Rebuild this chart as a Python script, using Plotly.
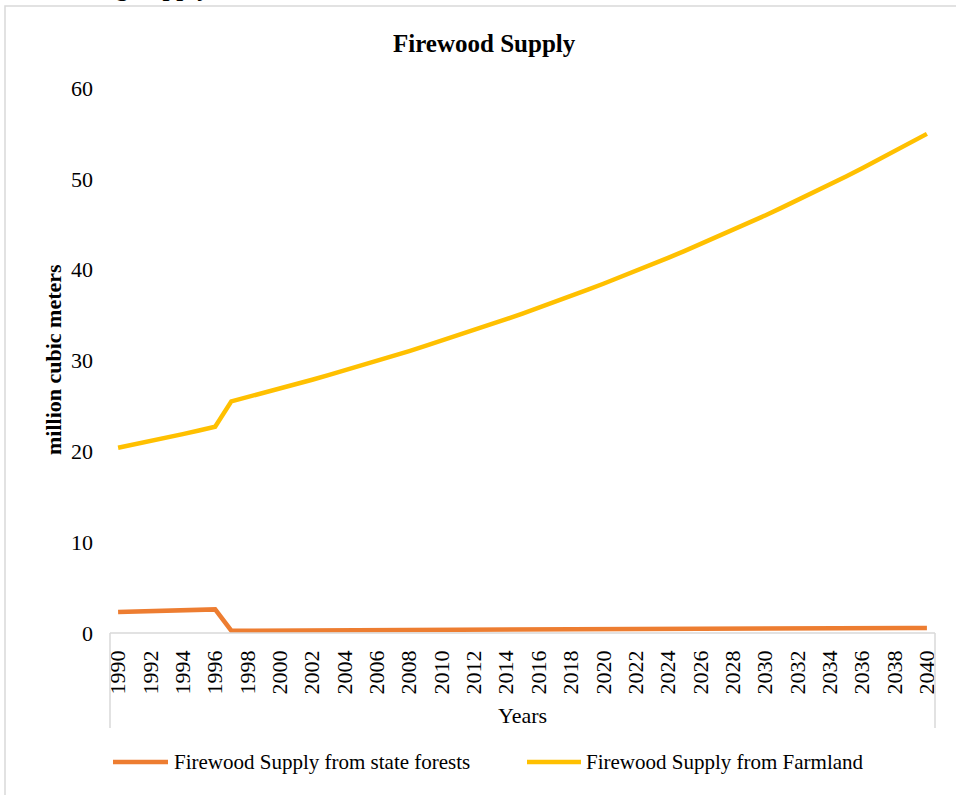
import plotly.graph_objects as go

years = list(range(1990, 2041))

state_forests = [2.30, 2.35, 2.40, 2.45, 2.50, 2.55, 2.60,
                 0.25, 0.26, 0.27, 0.27, 0.28, 0.29, 0.30, 0.30, 0.31,
                 0.32, 0.33, 0.33, 0.34, 0.35, 0.36, 0.36, 0.37, 0.38,
                 0.39, 0.39, 0.40, 0.41, 0.42, 0.42, 0.43, 0.44, 0.45,
                 0.45, 0.46, 0.47, 0.48, 0.48, 0.49, 0.50, 0.51, 0.51,
                 0.52, 0.53, 0.53, 0.54, 0.54, 0.55, 0.55, 0.55]

farmland = [20.40, 20.75, 21.10, 21.50, 21.90, 22.30, 22.70,
            25.50, 25.96, 26.43, 26.90, 27.39, 27.88, 28.39, 28.90, 29.42,
            29.95, 30.49, 31.04, 31.60, 32.17, 32.75, 33.34, 33.94, 34.55,
            35.17, 35.80, 36.45, 37.10, 37.77, 38.45, 39.14, 39.85, 40.57,
            41.30, 42.04, 42.80, 43.57, 44.36, 45.16, 45.97, 46.80, 47.64,
            48.50, 49.37, 50.26, 51.17, 52.09, 53.03, 53.98, 54.95]

series_names = ["Firewood Supply from state forests", "Firewood Supply from Farmland"]
series_colors = ["#ED7D31", "#FFC000"]
tick_years = list(range(1990, 2041, 2))
y_ticks = [0, 10, 20, 30, 40, 50, 60]

FONT = "Liberation Serif, Times New Roman, serif"

# plot area in pixels
L, R, T, B = 110, 935, 88, 633
W, H = 956, 795
PW, PH = R - L, B - T

def px(x):
    return (x - L) / PW

def py(y):
    return (B - y) / PH

fig = go.Figure()
for name, vals, col in zip(series_names, [state_forests, farmland], series_colors):
    fig.add_trace(go.Scatter(x=years, y=vals, mode="lines", name=name,
                             line=dict(color=col, width=4.5), showlegend=False))

shapes = [
    dict(type="rect", xref="paper", yref="paper", x0=px(5), x1=px(1000), y0=py(6), y1=py(900),
         line=dict(color="#D9D9D9", width=1.5), layer="below"),
    dict(type="line", xref="paper", yref="paper", x0=0, x1=1, y0=0, y1=0,
         line=dict(color="#D9D9D9", width=1.5)),
    dict(type="line", xref="paper", yref="paper", x0=0, x1=0, y0=0, y1=py(728),
         line=dict(color="#D9D9D9", width=1.5)),
    dict(type="line", xref="paper", yref="paper", x0=1, x1=1, y0=0, y1=py(728),
         line=dict(color="#D9D9D9", width=1.5)),
]

annotations = [
    dict(text="<b>Firewood Supply</b>", xref="paper", yref="paper", x=px(484), y=py(43),
         xanchor="center", yanchor="middle", showarrow=False,
         font=dict(family=FONT, size=25, color="black")),
    dict(text="<b>million cubic meters</b>", xref="paper", yref="paper", x=px(53), y=py(360),
         xanchor="center", yanchor="middle", showarrow=False, textangle=-90,
         font=dict(family=FONT, size=22, color="black")),
    dict(text="Years", xref="paper", yref="paper", x=px(522), y=py(715),
         xanchor="center", yanchor="middle", showarrow=False,
         font=dict(family=FONT, size=22, color="black")),
    dict(text="<b>ng Supply</b>", xref="paper", yref="paper", x=px(212), y=py(3),
         xanchor="right", yanchor="bottom", showarrow=False,
         font=dict(family=FONT, size=25, color="black")),
]

leg_items = [(113, 168, 172), (527, 581, 584)]
for (x0, x1, tx), name, col in zip(leg_items, series_names, series_colors):
    shapes.append(dict(type="line", xref="paper", yref="paper", x0=px(x0), x1=px(x1),
                       y0=py(762), y1=py(762), line=dict(color=col, width=4.5)))
    annotations.append(dict(text=name, xref="paper", yref="paper", x=px(tx), y=py(762),
                            xanchor="left", yanchor="middle", showarrow=False,
                            font=dict(family=FONT, size=21, color="black")))

fig.update_layout(
    width=W, height=H,
    margin=dict(l=L, r=W - R, t=T, b=H - B, pad=0),
    paper_bgcolor="white", plot_bgcolor="white",
    font=dict(family=FONT, size=21, color="black"),
    shapes=shapes, annotations=annotations,
    xaxis=dict(range=[1989.5, 2040.5], tickvals=tick_years, ticktext=[str(y) for y in tick_years],
               tickangle=-90, showgrid=False, zeroline=False, showline=False, ticks="",
               ticklabelstandoff=12, tickfont=dict(family=FONT, size=22), fixedrange=True),
    yaxis=dict(range=[0, 60], tickvals=y_ticks, showgrid=False, zeroline=False, showline=False,
               ticks="", ticklabelstandoff=16, tickfont=dict(family=FONT, size=22), fixedrange=True),
)

fig.write_html("out.html", config={"displayModeBar": False})
